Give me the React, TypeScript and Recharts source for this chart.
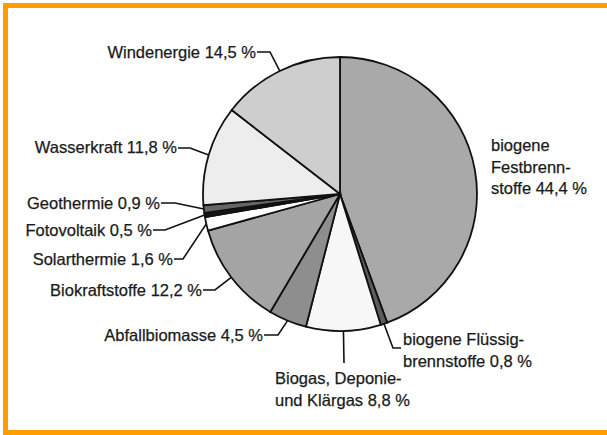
import { PieChart, Pie, Cell } from 'recharts'

const sources = [
  'biogene Festbrennstoffe',
  'biogene Flüssigbrennstoffe',
  'Biogas, Deponie- und Klärgas',
  'Abfallbiomasse',
  'Biokraftstoffe',
  'Solarthermie',
  'Fotovoltaik',
  'Geothermie',
  'Wasserkraft',
  'Windenergie',
]
const shares = [44.4, 0.8, 8.8, 4.5, 12.2, 1.6, 0.5, 0.9, 11.8, 14.5]
// how each label is broken into lines (value gets appended to the last line)
const labelLines = [
  ['biogene', 'Festbrenn-', 'stoffe'],
  ['biogene Flüssig-', 'brennstoffe'],
  ['Biogas, Deponie-', 'und Klärgas'],
  ['Abfallbiomasse'],
  ['Biokraftstoffe'],
  ['Solarthermie'],
  ['Fotovoltaik'],
  ['Geothermie'],
  ['Wasserkraft'],
  ['Windenergie'],
]
const fills = ['#a9a9a9', '#5c5c5c', '#f7f7f7', '#8e8e8e', '#a4a4a4', '#ffffff', '#151515', '#666666', '#ededed', '#cecece']

// label placement relative to the pie centre; leader = knee points after the arc point
const labelLayout = [
  { anchor: 'start', x: 151, y: -49, leader: [] },
  { anchor: 'start', x: 63, y: 145, leader: [[53, 154], [61, 154]] },
  { anchor: 'start', x: -65, y: 184, leader: [[4, 169]] },
  { anchor: 'end', x: -77, y: 141, leader: [[-62, 141], [-76, 141]] },
  { anchor: 'end', x: -138, y: 96, leader: [[-125, 96], [-137, 96]] },
  { anchor: 'end', x: -167, y: 65, leader: [[-157, 65], [-166, 65]] },
  { anchor: 'end', x: -188, y: 36, leader: [[-175, 36], [-187, 36]] },
  { anchor: 'end', x: -180, y: 9, leader: [[-165, 9], [-179, 9]] },
  { anchor: 'end', x: -163, y: -47, leader: [[-150, -46], [-162, -46]] },
  { anchor: 'end', x: -84, y: -142, leader: [[-70, -142], [-83, -142]] },
]

const data = sources.map((name, i) => ({ name, value: shares[i] }))

const fmt = (v: number) => `${v.toFixed(1).replace('.', ',')} %`

const RAD = Math.PI / 180
const LINE_H = 21.5

function renderLabel(props: any) {
  const { cx, cy, midAngle, outerRadius, index, value } = props
  const lay = labelLayout[index]
  const px = cx + outerRadius * Math.cos(-midAngle * RAD)
  const py = cy + outerRadius * Math.sin(-midAngle * RAD)
  const pts = [[px, py], ...lay.leader.map(([x, y]) => [cx + x, cy + y])]
  const lines = labelLines[index].slice()
  lines[lines.length - 1] = `${lines[lines.length - 1]} ${fmt(value)}`
  return (
    <g key={`lbl-${index}`}>
      {lay.leader.length > 0 && (
        <polyline
          points={pts.map(p => p.join(',')).join(' ')}
          fill="none"
          stroke="#111"
          strokeWidth={1.6}
        />
      )}
      <text
        x={cx + lay.x}
        y={cy + lay.y}
        textAnchor={lay.anchor}
        dominantBaseline="central"
        fill="#1a1a1a"
        stroke="#1a1a1a"
        strokeWidth={0.25}
        fontSize={16.5}
        fontFamily="'Liberation Sans', Arial, sans-serif"
      >
        {lines.map((ln, j) => (
          <tspan key={j} x={cx + lay.x} dy={j === 0 ? 0 : LINE_H}>{ln}</tspan>
        ))}
      </text>
    </g>
  )
}

export default function App() {
  return (
    <div style={{ position: 'absolute', left: 0, top: 0, width: 607, height: 435, overflow: 'hidden', background: '#fff' }}>
      <div
        style={{
          position: 'absolute', left: 3, top: 3, width: 620, height: 432,
          boxSizing: 'border-box', border: '5px solid #ff9c00',
        }}
      />
      <div style={{ position: 'absolute', left: 0, top: 0 }}>
        <PieChart width={607} height={435} margin={{ top: 0, right: 0, bottom: 0, left: 0 }}>
          <Pie
            data={data}
            dataKey="value"
            nameKey="name"
            cx={340}
            cy={194}
            outerRadius={137}
            startAngle={90}
            endAngle={-270}
            stroke="#111"
            strokeWidth={1.8}
            label={renderLabel}
            labelLine={false}
            isAnimationActive={false}
          >
            {data.map((d, i) => (
              <Cell key={d.name} fill={fills[i]} />
            ))}
          </Pie>
        </PieChart>
      </div>
    </div>
  )
}
